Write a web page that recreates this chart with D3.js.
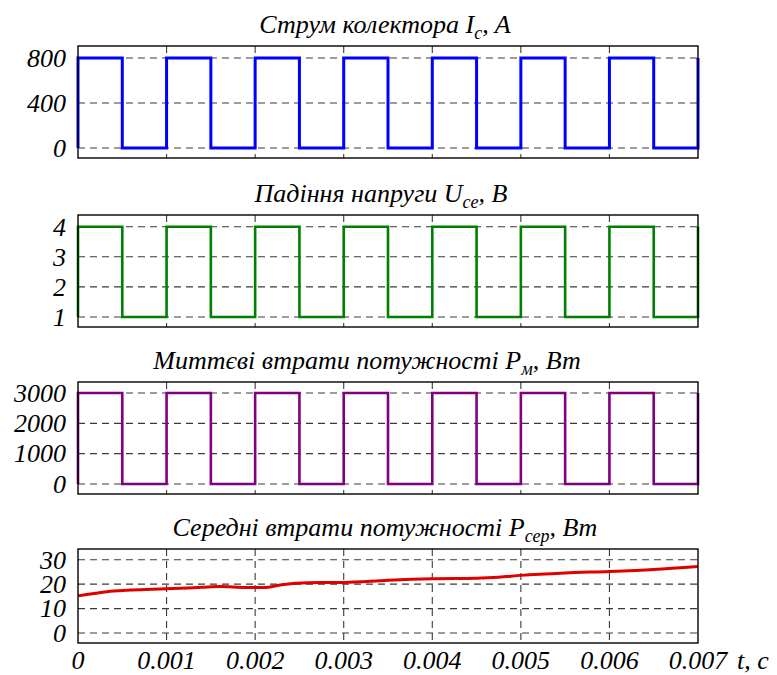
<!DOCTYPE html>
<html>
<head>
<meta charset="utf-8">
<script src="https://cdnjs.cloudflare.com/ajax/libs/d3/7.8.5/d3.min.js"></script>
<style>
  body { margin: 0; background: #fff; }
</style>
</head>
<body>
<div id="chart"></div>
<script>
// switching instants of the square waves, s
const tSwitch = [0, 0, 0.0005, 0.001, 0.0015, 0.002, 0.0025, 0.003, 0.0035,
  0.004, 0.0045, 0.005, 0.0055, 0.006, 0.0065, 0.007];
const icValues = [0, 800, 0, 800, 0, 800, 0, 800, 0, 800, 0, 800, 0, 800, 0, 800];
const uceValues = [1, 4, 1, 4, 1, 4, 1, 4, 1, 4, 1, 4, 1, 4, 1, 4];
const pmValues = [0, 3000, 0, 3000, 0, 3000, 0, 3000, 0, 3000, 0, 3000, 0, 3000, 0, 3000];

// average losses
const tAvg = [0, 0.0002, 0.0004, 0.0006, 0.001, 0.0014, 0.0016, 0.0019, 0.0021, 0.0023,
  0.0026, 0.003, 0.0035, 0.004, 0.0045, 0.00475, 0.005, 0.0055, 0.006, 0.0065, 0.007];
const pAvgValues = [15.2, 16.3, 17.2, 17.6, 18.1, 18.7, 19.0, 18.6, 18.6, 19.8,
  20.6, 20.7, 21.6, 22.2, 22.4, 22.8, 23.6, 24.6, 25.2, 26.0, 27.2];

const xTicks = [0, 0.001, 0.002, 0.003, 0.004, 0.005, 0.006, 0.007];
const xTickLabels = ["0", "0.001", "0.002", "0.003", "0.004", "0.005", "0.006", "0.007"];
const icTicks = [0, 400, 800];
const uceTicks = [1, 2, 3, 4];
const pmTicks = [0, 1000, 2000, 3000];
const pAvgTicks = [0, 10, 20, 30];

const width = 777;
const height = 675;
const left = 78, right = 698;

let svg = d3.select("#chart").append("svg")
  .attr("width", width)
  .attr("height", height);

let x = d3.scaleLinear().domain([0, 0.007]).range([left, right]);

function label(sel, size) {
  return sel.attr("font-family", "Liberation Serif")
    .attr("font-style", "italic")
    .attr("font-size", size)
    .attr("fill", "#000");
}

function drawPanel(opt) {
  let y = d3.scaleLinear().domain(opt.domain).range([opt.bottom, opt.top]);
  let g = svg.append("g");

  // grid
  g.selectAll("line.hgrid")
    .data(opt.ticks)
    .enter().append("line")
    .attr("x1", left).attr("x2", right)
    .attr("y1", d => y(d)).attr("y2", d => y(d))
    .attr("stroke", "#3a3a3a")
    .attr("stroke-width", 1.1)
    .attr("stroke-dasharray", "7,5");
  g.selectAll("line.vgrid")
    .data(xTicks.slice(1, -1))
    .enter().append("line")
    .attr("x1", d => x(d)).attr("x2", d => x(d))
    .attr("y1", opt.top).attr("y2", opt.bottom)
    .attr("stroke", "#3a3a3a")
    .attr("stroke-width", 1.1)
    .attr("stroke-dasharray", "7,5");

  // y tick labels
  g.selectAll("text.ylab")
    .data(opt.ticks)
    .enter().append("text")
    .attr("x", 66)
    .attr("y", d => y(d))
    .attr("dy", "0.34em")
    .attr("text-anchor", "end")
    .call(label, 26)
    .text(d => d);

  // signal
  let line = d3.line()
    .x((d, i) => x(opt.t[i]))
    .y(d => y(d))
    .curve(opt.curve);
  g.append("path")
    .datum(opt.values)
    .attr("d", line)
    .attr("fill", "none")
    .attr("stroke", opt.color)
    .attr("stroke-width", opt.lineWidth)
    .attr("stroke-linejoin", "miter");

  // frame
  g.append("rect")
    .attr("x", left).attr("y", opt.top)
    .attr("width", right - left).attr("height", opt.bottom - opt.top)
    .attr("fill", "none")
    .attr("stroke", "#000")
    .attr("stroke-width", 1.4);

  // title
  let title = g.append("text")
    .attr("x", opt.titleX)
    .attr("y", opt.top - 13)
    .attr("text-anchor", "middle")
    .call(label, 26);
  title.append("tspan").text(opt.title[0]);
  title.append("tspan").attr("dy", 6).attr("font-size", 18).text(opt.title[1]);
  title.append("tspan").attr("dy", -6).text(opt.title[2]);
}

drawPanel({
  top: 46, bottom: 158, domain: [-89, 907], ticks: icTicks,
  t: tSwitch, values: icValues, color: "#0000ff", lineWidth: 3,
  curve: d3.curveStepAfter, titleX: 385,
  title: ["Струм колектора I", "c", ", A"]
});
drawPanel({
  top: 215, bottom: 327, domain: [0.667, 4.39], ticks: uceTicks,
  t: tSwitch, values: uceValues, color: "#008000", lineWidth: 2.6,
  curve: d3.curveStepAfter, titleX: 381,
  title: ["Падіння напруги U", "ce", ", В"]
});
drawPanel({
  top: 382, bottom: 494, domain: [-331, 3364], ticks: pmTicks,
  t: tSwitch, values: pmValues, color: "#800080", lineWidth: 2.6,
  curve: d3.curveStepAfter, titleX: 367,
  title: ["Миттєві втрати потужності P", "м", ", Вт"]
});
drawPanel({
  top: 549, bottom: 643, domain: [-4.09, 34.4], ticks: pAvgTicks,
  t: tAvg, values: pAvgValues, color: "#e00000", lineWidth: 3,
  curve: d3.curveMonotoneX, titleX: 385,
  title: ["Середні втрати потужності P", "сер", ", Вт"]
});

// x tick labels
svg.selectAll("text.xlab")
  .data(xTicks)
  .enter().append("text")
  .attr("x", d => x(d))
  .attr("y", 669)
  .attr("text-anchor", "middle")
  .call(label, 26)
  .text((d, i) => xTickLabels[i]);

svg.append("text")
  .attr("x", 737)
  .attr("y", 669)
  .call(label, 26)
  .text("t, c");
</script>
</body>
</html>
